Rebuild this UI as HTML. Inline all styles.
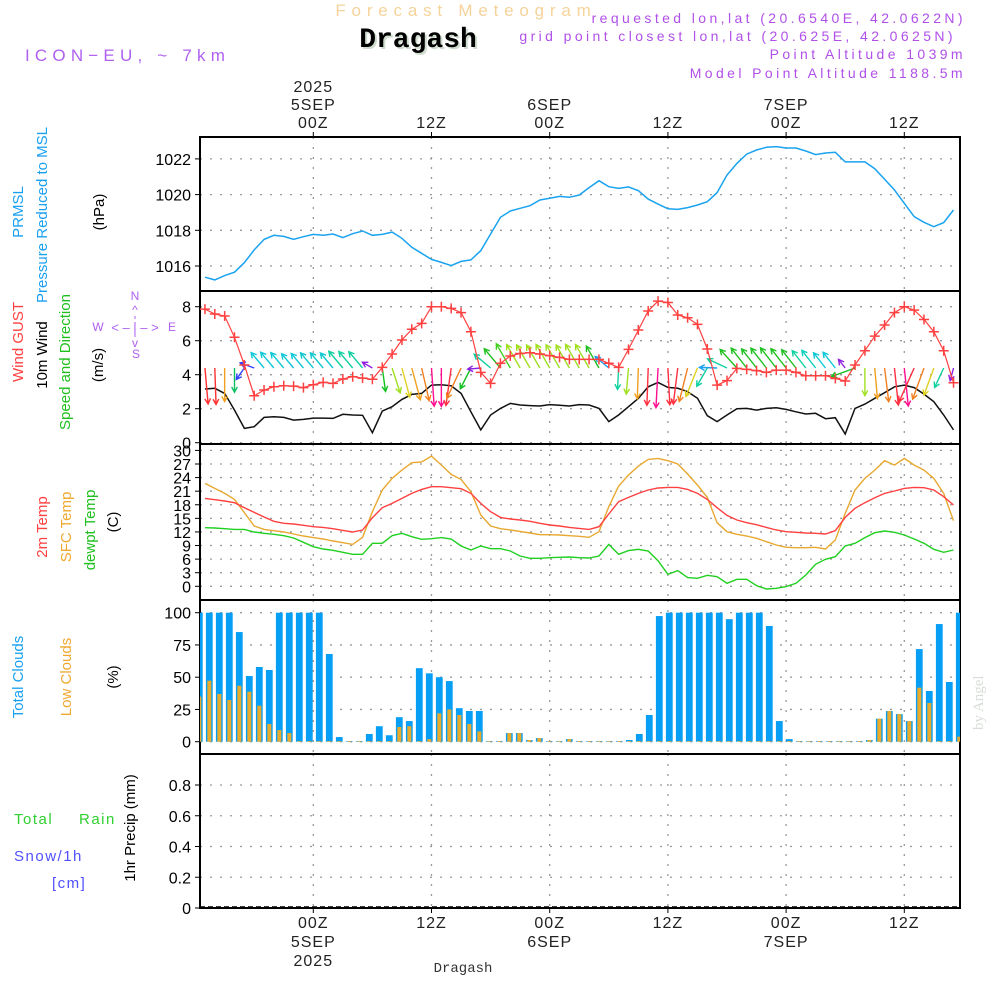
<!DOCTYPE html>
<html><head><meta charset="utf-8"><style>
html,body{margin:0;padding:0;background:#fff;}
svg{display:block;font-family:"Liberation Sans",sans-serif;}
</style></head><body>
<svg id="chart" width="1000" height="1000" viewBox="0 0 1000 1000" xmlns="http://www.w3.org/2000/svg">
<defs>
<clipPath id="plotclip"><rect x="200" y="137" width="760" height="771"/></clipPath>
</defs>
<text x="466" y="16" text-anchor="middle" font-size="17" fill="#f5d39a" letter-spacing="5.8">Forecast Meteogram</text>
<text x="420" y="49" text-anchor="middle" font-family="Liberation Mono, monospace" font-weight="bold" font-size="28" fill="#cfdccf">Dragash</text>
<text x="418" y="47" text-anchor="middle" font-family="Liberation Mono, monospace" font-weight="bold" font-size="28" fill="#000">Dragash</text>
<text x="25" y="61" font-size="17" fill="#b060f0" letter-spacing="5.2">ICON−EU, ~ 7km</text>
<g font-size="14" fill="#b050e8" text-anchor="end" letter-spacing="3.4">
<text x="966" y="23">requested lon,lat (20.6540E, 42.0622N)</text>
<text x="956" y="41">grid point closest lon,lat (20.625E, 42.0625N)</text>
<text x="966" y="59">Point Altitude 1039m</text>
<text x="966" y="78">Model Point Altitude 1188.5m</text>
</g>
<text transform="translate(983,730) rotate(-90)" font-family="Liberation Serif, serif" font-size="15" fill="#d8ddd8">by Angel</text>

<g id="grid"></g>
<g id="axes"></g>
<g id="marks" clip-path="url(#plotclip)"></g>

<g font-size="15">
<text transform="translate(23,212) rotate(-90)" text-anchor="middle" fill="#1aa0f0">PRMSL</text>
<text transform="translate(47,215) rotate(-90)" text-anchor="middle" fill="#1aa0f0">Pressure Reduced to MSL</text>
<text transform="translate(104,212) rotate(-90)" text-anchor="middle" fill="#000">(hPa)</text>
</g>
<g font-size="15">
<text transform="translate(23,342) rotate(-90)" text-anchor="middle" fill="#ff4040">Wind GUST</text>
<text transform="translate(47,355) rotate(-90)" text-anchor="middle" fill="#000">10m Wind</text>
<text transform="translate(70,362) rotate(-90)" text-anchor="middle" fill="#20c020">Speed and Direction</text>
<text transform="translate(103,365) rotate(-90)" text-anchor="middle" fill="#000">(m/s)</text>
</g>
<g font-size="12" fill="#b060f0" text-anchor="middle">
<text x="135" y="300">N</text><text x="98" y="331">W</text><text x="172" y="331">E</text><text x="136" y="358">S</text>
<text x="135" y="332" font-size="13">&lt; – | – &gt;</text>
<text x="135" y="314">^</text><text x="135" y="347">v</text>
<line x1="135" y1="316" x2="135" y2="340" stroke="#b060f0" stroke-dasharray="3,3"/>
</g>
<g font-size="15">
<text transform="translate(47,527) rotate(-90)" text-anchor="middle" fill="#ff4040">2m Temp</text>
<text transform="translate(71,527) rotate(-90)" text-anchor="middle" fill="#f0a830">SFC Temp</text>
<text transform="translate(95,530) rotate(-90)" text-anchor="middle" fill="#20c020">dewpt Temp</text>
<text transform="translate(118,522) rotate(-90)" text-anchor="middle" fill="#000">(C)</text>
</g>
<g font-size="15">
<text transform="translate(23,677) rotate(-90)" text-anchor="middle" fill="#1aa0f0">Total Clouds</text>
<text transform="translate(71,677) rotate(-90)" text-anchor="middle" fill="#f0a830">Low Clouds</text>
<text transform="translate(118,677) rotate(-90)" text-anchor="middle" fill="#000">(%)</text>
</g>
<g font-size="15" letter-spacing="1.5">
<text x="14" y="824" fill="#30d030">Total</text><text x="79" y="824" fill="#30d030">Rain</text>
<text x="14" y="861" fill="#5050ff">Snow/1h</text>
<text x="52" y="888" fill="#5050ff">[cm]</text>
<text transform="translate(135,828) rotate(-90)" text-anchor="middle" fill="#000" letter-spacing="0">1hr Precip (mm)</text>
</g>
<text x="463" y="972" text-anchor="middle" font-family="Liberation Mono, monospace" font-size="14" fill="#333">Dragash</text>

<script>
// ---- data (hourly, t = -11 .. 65 hours from 00Z 5SEP) ----
const startHour = -11;
const pressure = [1015.37,1015.22,1015.46,1015.65,1016.19,1016.9,1017.49,1017.72,1017.66,1017.49,1017.64,1017.77,1017.72,1017.79,1017.59,1017.81,1017.96,1017.72,1017.77,1017.9,1017.55,1017.05,1016.71,1016.37,1016.2,1016.02,1016.26,1016.34,1016.86,1017.79,1018.73,1019.08,1019.23,1019.38,1019.7,1019.79,1019.9,1019.85,1019.98,1020.39,1020.78,1020.44,1020.35,1020.43,1020.22,1019.75,1019.47,1019.21,1019.17,1019.27,1019.42,1019.6,1020.11,1021.1,1021.75,1022.27,1022.5,1022.65,1022.69,1022.61,1022.61,1022.44,1022.24,1022.33,1022.37,1021.83,1021.83,1021.83,1021.45,1020.86,1020.26,1019.51,1018.76,1018.45,1018.2,1018.43,1019.14];
const windGust = [7.86,7.57,7.45,6.2,4.57,2.76,3.1,3.29,3.35,3.33,3.24,3.41,3.55,3.49,3.75,3.88,3.8,3.73,4.43,5.22,6.04,6.67,7.02,8.0,8.0,7.9,7.65,6.53,4.14,3.49,4.67,5.1,5.25,5.29,5.22,5.12,5.02,4.9,4.9,4.9,4.9,4.67,4.43,5.49,6.63,7.75,8.33,8.25,7.51,7.35,6.96,5.51,3.39,3.65,4.37,4.31,4.24,4.14,4.27,4.27,4.14,3.94,3.94,3.94,3.78,3.63,4.57,5.41,6.27,6.92,7.65,8.0,7.8,7.25,6.53,5.41,3.53];
const wind10m = [3.16,3.2,2.9,1.92,0.84,0.94,1.49,1.53,1.49,1.33,1.37,1.45,1.45,1.43,1.67,1.63,1.61,0.59,1.86,2.12,2.55,2.84,2.9,3.39,3.41,3.35,2.9,1.82,0.75,1.63,2.02,2.31,2.22,2.18,2.16,2.24,2.2,2.16,2.24,2.22,2.02,1.24,1.63,2.12,2.61,3.29,3.55,3.25,3.2,3.0,2.61,1.59,1.24,1.63,2.0,2.02,1.92,2.02,2.06,1.96,1.82,1.69,1.73,1.41,1.47,0.51,2.02,2.27,2.61,2.94,3.29,3.39,3.24,2.86,2.41,1.63,0.75];
// direction the arrow points to (degrees clockwise from north)
const windToDeg = [175,178,180,180,215,290,320,320,320,320,320,320,320,320,320,320,320,300,172,162,165,165,167,176,180,188,205,207,265,310,320,330,330,330,330,330,330,330,330,330,330,310,183,185,182,182,183,177,187,194,202,210,272,295,318,322,322,322,322,322,322,322,322,322,322,322,250,180,175,173,174,174,204,200,200,205,195];
const windColor = ["#ff3030","#ff3030","#f0a020","#10c060","#3040ff","#3040ff","#10c8d8","#10c8d8","#10c8d8","#10c8d8","#10c8d8","#10c8d0","#10c8d0","#10c8d0","#10d0a0","#10d0a0","#10d0a0","#9020e0","#10c020","#a0e020","#e0d020","#f0a020","#f08020","#ff1090","#ff1090","#ff3040","#f08020","#10c020","#9020e0","#10d0a0","#20c020","#40d020","#a0e020","#a0e020","#a0e020","#a0e020","#a0e020","#a0e020","#a0e020","#a0e020","#20c020","#20a0f0","#10d0a0","#a0e020","#f0a020","#ff3040","#ff1090","#ff3040","#ff3040","#f08020","#e0d020","#10d0a0","#20a0f0","#10d0a0","#20c020","#20c020","#20c020","#20c020","#20c020","#20c020","#20c020","#10d0a0","#10d0c0","#10c8d8","#10c8d8","#9020e0","#10c020","#a0e020","#f0a020","#f08020","#ff3040","#ff1090","#ff3040","#f08020","#e0d020","#10d0a0","#9020e0"];
const temp2m = [19.41,19.12,18.82,18.46,17.35,16.32,15.29,14.34,13.9,13.75,13.46,13.16,13.01,12.72,12.35,11.99,12.43,15.15,17.35,18.31,19.41,20.51,21.4,21.99,21.99,21.76,21.54,20.51,18.31,16.47,15.22,14.85,14.63,14.34,13.9,13.53,13.31,13.01,12.79,12.57,13.16,15.96,18.68,19.63,20.51,21.25,21.69,21.84,21.84,21.4,20.51,19.19,17.35,15.66,14.63,14.04,13.6,13.01,12.43,12.06,11.91,11.76,11.69,11.54,12.28,15.22,17.21,18.46,19.56,20.51,21.03,21.62,21.84,21.76,21.25,19.78,17.94];
const sfcTemp = [22.72,21.62,20.51,19.19,16.25,13.31,12.57,12.28,11.99,11.54,11.1,10.74,10.44,10.0,9.63,9.26,10.81,16.47,21.25,23.82,25.66,27.28,27.43,28.75,26.76,24.71,23.6,20.88,15.74,13.31,12.72,12.43,12.13,11.76,11.4,11.4,11.32,11.18,11.03,10.81,12.06,17.57,22.13,24.56,26.54,28.01,28.24,27.72,26.99,24.78,22.35,19.63,14.04,12.06,11.47,11.1,10.59,9.85,9.12,8.6,8.53,8.53,8.6,8.24,10.22,16.1,21.25,23.82,25.66,27.72,26.76,28.24,26.76,25.66,23.82,20.51,14.49];
const dewpt = [12.94,12.87,12.72,12.57,12.57,11.99,11.69,11.47,11.18,10.66,9.71,8.75,8.24,7.94,7.5,7.06,7.06,9.49,9.49,11.18,11.69,10.96,10.37,10.51,10.74,10.44,8.9,8.01,8.9,8.31,8.31,7.79,6.69,6.18,6.18,6.32,6.4,6.47,6.32,6.25,6.69,9.26,7.06,7.87,8.16,7.79,5.66,2.65,3.46,1.91,1.76,2.43,2.13,0.66,1.54,1.54,0.15,-0.59,-0.44,-0.07,0.66,2.5,4.85,5.96,6.54,8.9,9.49,10.74,11.84,12.21,11.91,11.32,10.44,9.49,8.16,7.5,8.01];
const totalClouds = [100,100,100,100,85,50.9,57.9,55.6,100,100,100,100,100,68,3.6,0.5,0.5,6,12,5,19,16,57,53,50,47,26,23.8,23.8,0.5,0.5,6.7,6.7,1.3,2.8,0.5,0.5,2,0.5,0.5,0.5,0.5,0.5,1.3,6,20.7,97.4,100,100,100,100,100,100,95,100,100,100,89.7,16,2,0.5,0.5,0.5,0.5,0.5,0.5,0.5,1.3,17.8,23.8,21.4,16,71.8,39.3,91.2,46.3,100];
const lowClouds = [35,47.3,37,32.3,43.4,38.8,27.9,13.7,9,6.7,0.5,0.5,0.5,0.5,0.5,0.5,0.5,0.5,0.5,0.5,11.4,12,0.5,2,22,25,20.7,13.7,8,0.5,0.5,6.7,6.7,1.3,2.8,0.5,0.5,2,0.5,0.5,0.5,0.5,0.5,0.5,0.5,0.5,0.5,0.5,0.5,0.5,0.5,0.5,0.5,0.5,0.5,0.5,0.5,0.5,0.5,0.5,0.5,0.5,0.5,0.5,0.5,0.5,0.5,1.3,17.8,23.8,21.4,16,41.9,30,0.5,0.5,3.9];
const precip = [];
const pressTicks = [1016,1018,1020,1022];
const windTicks = [0,2,4,6,8];
const tempTicks = [0,3,6,9,12,15,18,21,24,27,30];
const cloudTicks = [0,25,50,75,100];
const precipTicks = [0,0.2,0.4,0.6,0.8];
const timeTicks = [0,12,24,36,48,60];
const timeLabels = ["00Z","12Z","00Z","12Z","00Z","12Z"];
const dateLabels = ["5SEP","","6SEP","","7SEP",""];

// ---- scales ----
const xT = t => 313.3 + t * 9.85;
const xBar = k => 309.3 + k * 10;
const yP = p => 266 - (p - 1016) * 17.85;
const yW = v => 442.7 - v * 17;
const yT = T => 586.3 - T * 4.53;
const yC = c => 741.7 - c * 1.29;
const yR = r => 908 - r * 153.75;

const NS = "http://www.w3.org/2000/svg";
function mk(tag, attrs, parent) {
  const e = document.createElementNS(NS, tag);
  for (const k in attrs) e.setAttribute(k, attrs[k]);
  parent.appendChild(e);
  return e;
}
const grid = document.getElementById('grid');
const axes = document.getElementById('axes');
const marks = document.getElementById('marks');

const panels = [
  {name:'pressure', top:137, bottom:291, ticks:pressTicks, y:yP, fmt:v=>String(v)},
  {name:'wind', top:291, bottom:444, ticks:windTicks, y:yW, fmt:v=>String(v)},
  {name:'temp', top:444, bottom:600, ticks:tempTicks, y:yT, fmt:v=>String(v)},
  {name:'cloud', top:600, bottom:754, ticks:cloudTicks, y:yC, fmt:v=>String(v)},
  {name:'precip', top:754, bottom:908, ticks:precipTicks, y:yR, fmt:v=>String(v)}
];
panels.forEach(p => {
  p.ticks.forEach(v => {
    const y = p.y(v);
    const g = mk('line', {x1:200, x2:960, y1:y, y2:y, stroke:'#999', 'stroke-width':1.3, 'stroke-dasharray':'2,8'}, grid);
    
    
    const tk = mk('line', {x1:195, x2:200, y1:y, y2:y, stroke:'#000'}, axes);
    
    
    const lb = mk('text', {x:191, y:y+6, 'text-anchor':'end', 'font-size':16, fill:'#000'}, axes);
    
    
    lb.textContent = p.fmt(v);
  });
  timeTicks.forEach(t => {
    const x = xT(t);
    const g = mk('line', {x1:x, x2:x, y1:p.top, y2:p.bottom, stroke:'#999', 'stroke-width':1.3, 'stroke-dasharray':'2,8'}, grid);
    
    
  });
  const r = mk('rect', {x:200, y:p.top, width:760, height:p.bottom-p.top, fill:'none', stroke:'#000', 'stroke-width':2}, axes);
  
  
});
const zl = mk('line', {x1:200, x2:960, y1:907, y2:907, stroke:'#000', 'stroke-width':1.5, 'stroke-dasharray':'5,3'}, axes);



timeTicks.forEach((t, i) => {
  const x = xT(t);
  [137, 908].forEach(yb => {
    const tk = mk('line', {x1:x, x2:x, y1: yb===137 ? 132 : 908, y2: yb===137 ? 137 : 913, stroke:'#000'}, axes);
    
    
  });
  const top = mk('text', {x:x, y:128, 'text-anchor':'middle', 'font-size':16, fill:'#222', 'letter-spacing':1}, axes);
  
  
  top.textContent = timeLabels[i];
  const bot = mk('text', {x:x, y:928, 'text-anchor':'middle', 'font-size':16, fill:'#222', 'letter-spacing':1}, axes);
  
  
  bot.textContent = timeLabels[i];
  if (dateLabels[i]) {
    const dt = mk('text', {x:x, y:110, 'text-anchor':'middle', 'font-size':16, fill:'#222', 'letter-spacing':1}, axes);
    
    
    dt.textContent = dateLabels[i];
    const db = mk('text', {x:x, y:947, 'text-anchor':'middle', 'font-size':16, fill:'#222', 'letter-spacing':1}, axes);
    
    
    db.textContent = dateLabels[i];
  }
  if (i === 0) {
    const y1 = mk('text', {x:x, y:92, 'text-anchor':'middle', 'font-size':16, fill:'#222', 'letter-spacing':1}, axes);
    
    
    y1.textContent = '2025';
    const y2 = mk('text', {x:x, y:966, 'text-anchor':'middle', 'font-size':16, fill:'#222', 'letter-spacing':1}, axes);
    
    
    y2.textContent = '2025';
  }
});

function linePath(arr, yf) {
  return arr.map((v, i) => (i ? 'L' : 'M') + xT(startHour + i).toFixed(1) + ',' + yf(v).toFixed(1)).join(' ');
}

totalClouds.forEach((v, i) => {
  const k = startHour + i;
  const x = xBar(k);
  const b = mk('rect', {x:x-3.4, y:yC(v), width:6.8, height:yC(0)-yC(v), fill:'#069ff5'}, marks);
  
  
});
lowClouds.forEach((v, i) => {
  const k = startHour + i;
  const x = xBar(k);
  const b = mk('rect', {x:x-2, y:yC(v), width:4, height:yC(0)-yC(v), fill:'#e8ab2c'}, marks);
  
  
});

const pl = mk('path', {d:linePath(pressure, yP), fill:'none', stroke:'#1aa3f0', 'stroke-width':1.5}, marks);



const wl = mk('path', {d:linePath(wind10m, yW), fill:'none', stroke:'#111', 'stroke-width':1.5}, marks);



windToDeg.forEach((deg, i) => {
  const t = startHour + i;
  const x0 = xT(t), y0 = 368;
  const len = 6 + 9.5 * wind10m[i];
  const a = deg * Math.PI / 180;
  const x1 = x0 + len * Math.sin(a), y1 = y0 - len * Math.cos(a);
  const h = 6, s = 0.5;
  const hx1 = x1 - h * Math.sin(a - s), hy1 = y1 + h * Math.cos(a - s);
  const hx2 = x1 - h * Math.sin(a + s), hy2 = y1 + h * Math.cos(a + s);
  const ar = mk('path', {d:`M${x0},${y0} L${x1},${y1} M${hx1},${hy1} L${x1},${y1} L${hx2},${hy2}`, fill:'none', stroke:windColor[i], 'stroke-width':1.4}, marks);
  
  
});

const gl = mk('path', {d:linePath(windGust, yW), fill:'none', stroke:'#ff4040', 'stroke-width':1.2}, marks);


windGust.forEach((v, i) => {
  const x = xT(startHour + i), y = yW(v);
  const m = mk('path', {d:`M${x-5},${y} L${x+5},${y} M${x},${y-5} L${x},${y+5}`, stroke:'#ff4040', 'stroke-width':1.5}, marks);
  
  
});

const t1 = mk('path', {d:linePath(sfcTemp, yT), fill:'none', stroke:'#e8a830', 'stroke-width':1.4}, marks);


const t2 = mk('path', {d:linePath(temp2m, yT), fill:'none', stroke:'#ff4040', 'stroke-width':1.4}, marks);


const t3 = mk('path', {d:linePath(dewpt, yT), fill:'none', stroke:'#20d020', 'stroke-width':1.4}, marks);



precip.forEach((v, i) => {
  const x = xBar(startHour + i);
  const b = mk('rect', {x:x-3, y:yR(v), width:6, height:yR(0)-yR(v), fill:'#30d030'}, marks);
  
  
});
</script>
</svg>
</body></html>
